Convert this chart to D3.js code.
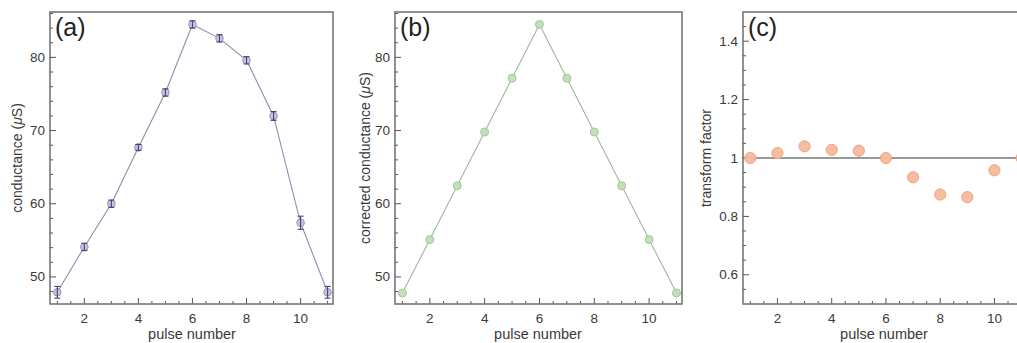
<!DOCTYPE html>
<html><head><meta charset="utf-8">
<script src="https://cdn.jsdelivr.net/npm/d3@7"></script>
<style>body{margin:0;background:#fff}svg{display:block;font-family:"Liberation Sans",Arial,sans-serif}</style>
</head><body><svg id="c" width="1017" height="343"></svg>
<script>
const pulses = [1,2,3,4,5,6,7,8,9,10,11];
const conductance = [47.9,54.1,60.0,67.7,75.2,84.5,82.6,79.6,72.0,57.4,47.9];
const condErr = [0.8,0.5,0.5,0.4,0.5,0.5,0.5,0.5,0.6,0.9,0.8];
const corrected = [47.8,55.1,62.45,69.8,77.15,84.5,77.15,69.8,62.45,55.1,47.8];
const factor = [1.0,1.017,1.04,1.028,1.025,1.0,0.934,0.875,0.866,0.958,1.0];
const xTicks = [2,4,6,8,10];
const condTicks = [50,60,70,80];
const factorTicks = [0.6,0.8,1,1.2,1.4];

const svg = d3.select("#c");
const plotTop = 12, plotBottom = 304;

function panel(o){
  const g = svg.append("g");
  const x = d3.scaleLinear().domain([0.73,11.2]).range([o.left,o.right]);
  const y = d3.scaleLinear().domain(o.ydom).range([plotBottom,plotTop]);
  const xMin = d3.range(1,11.01,0.5);
  const yMin = d3.range(Math.ceil(o.ydom[0]/o.yminor),Math.floor(o.ydom[1]/o.yminor)+1).map(k=>k*o.yminor);
  g.selectAll(".xm").data(xMin).join("line").attr("x1",d=>x(d)).attr("x2",d=>x(d))
    .attr("y1",plotBottom).attr("y2",d=>plotBottom-(xTicks.includes(d)?6:3)).attr("stroke","#555").attr("stroke-width",1);
  g.selectAll(".ym").data(yMin.filter(v=>v>o.ydom[0]&&v<o.ydom[1])).join("line")
    .attr("y1",d=>y(d)).attr("y2",d=>y(d)).attr("x1",o.left-1).attr("x2",d=>o.left+(o.yticks.some(t=>Math.abs(t-d)<1e-6)?6:3))
    .attr("stroke","#555").attr("stroke-width",1);
  g.selectAll(".xl").data(xTicks).join("text").attr("x",d=>x(d)).attr("y",323).attr("text-anchor","middle")
    .attr("font-size",13.5).attr("fill","#3a3a3a").text(d=>d);
  g.selectAll(".yl").data(o.yticks).join("text").attr("x",o.left-5).attr("y",d=>y(d)+4.5).attr("text-anchor","end")
    .attr("font-size",13.5).attr("fill","#3a3a3a").text(o.fmt);
  g.append("text").attr("x",o.tx).attr("y",339).attr("text-anchor","middle")
    .attr("font-size",14.5).attr("fill","#3a3a3a").text("pulse number");
  const yt = g.append("text").attr("transform",`translate(${o.ylx},158) rotate(-90)`).attr("text-anchor","middle")
    .attr("font-size",14).attr("fill","#3a3a3a");
  yt.append("tspan").text(o.ylabel);
  if(o.mu){ yt.append("tspan").text(" (");
    yt.append("tspan").attr("font-style","italic").text("μ");
    yt.append("tspan").text("S)"); }
  g.append("text").attr("x",o.left+5).attr("y",36).attr("font-size",25).attr("fill","#222").text(o.label);
  g.append("rect").attr("x",o.left).attr("y",plotTop).attr("width",o.right-o.left).attr("height",plotBottom-plotTop)
    .attr("fill","none").attr("stroke","#777").attr("stroke-width",1.6);
  return {g,x,y};
}

// (a)
const A = panel({left:50,right:333,ydom:[46.3,86.2],yminor:2,yticks:condTicks,fmt:d=>d,
  tx:192,ylx:22,ylabel:"conductance",mu:true,label:"(a)"});
A.g.append("path").datum(pulses).attr("fill","none").attr("stroke","#8e8eac").attr("stroke-width",1.1)
  .attr("d",d3.line().x(d=>A.x(d)).y((d,i)=>A.y(conductance[i])));
A.g.selectAll(".pa").data(pulses).join("circle").attr("cx",d=>A.x(d)).attr("cy",(d,i)=>A.y(conductance[i])).attr("r",3.8)
  .attr("fill","#c4c4e2").attr("stroke","#9494c0").attr("stroke-width",1);
const eb = A.g.selectAll(".eb").data(pulses).join("g").attr("stroke","#44446e").attr("stroke-width",1.1);
eb.append("line").attr("x1",d=>A.x(d)).attr("x2",d=>A.x(d)).attr("y1",(d,i)=>A.y(conductance[i]-condErr[i])).attr("y2",(d,i)=>A.y(conductance[i]+condErr[i]));
eb.append("line").attr("x1",d=>A.x(d)-3).attr("x2",d=>A.x(d)+3).attr("y1",(d,i)=>A.y(conductance[i]-condErr[i])).attr("y2",(d,i)=>A.y(conductance[i]-condErr[i]));
eb.append("line").attr("x1",d=>A.x(d)-3).attr("x2",d=>A.x(d)+3).attr("y1",(d,i)=>A.y(conductance[i]+condErr[i])).attr("y2",(d,i)=>A.y(conductance[i]+condErr[i]));

// (b)
const B = panel({left:395,right:682,ydom:[46.3,86.2],yminor:2,yticks:condTicks,fmt:d=>d,
  tx:538,ylx:370,ylabel:"corrected conductance",mu:true,label:"(b)"});
B.g.append("path").datum(pulses).attr("fill","none").attr("stroke","#9cba9c").attr("stroke-width",1.1)
  .attr("d",d3.line().x(d=>B.x(d)).y((d,i)=>B.y(corrected[i])));
B.g.selectAll(".pb").data(pulses).join("circle").attr("cx",d=>B.x(d)).attr("cy",(d,i)=>B.y(corrected[i])).attr("r",4)
  .attr("fill","#c2e0ba").attr("stroke","#a0c898").attr("stroke-width",1);

// (c)
const C = panel({left:743,right:1027,ydom:[0.5,1.5],yminor:0.05,yticks:factorTicks,fmt:d=>d,
  tx:884,ylx:711,ylabel:"transform factor",mu:false,label:"(c)"});
C.g.append("line").attr("x1",743).attr("x2",1027).attr("y1",C.y(1)).attr("y2",C.y(1)).attr("stroke","#777").attr("stroke-width",1.3);
C.g.selectAll(".pc").data(pulses).join("circle").attr("cx",d=>C.x(d)).attr("cy",(d,i)=>C.y(factor[i])).attr("r",5.6)
  .attr("fill","#f6b99a").attr("fill-opacity",0.95).attr("stroke","#eaa587").attr("stroke-width",1);
</script></body></html>
